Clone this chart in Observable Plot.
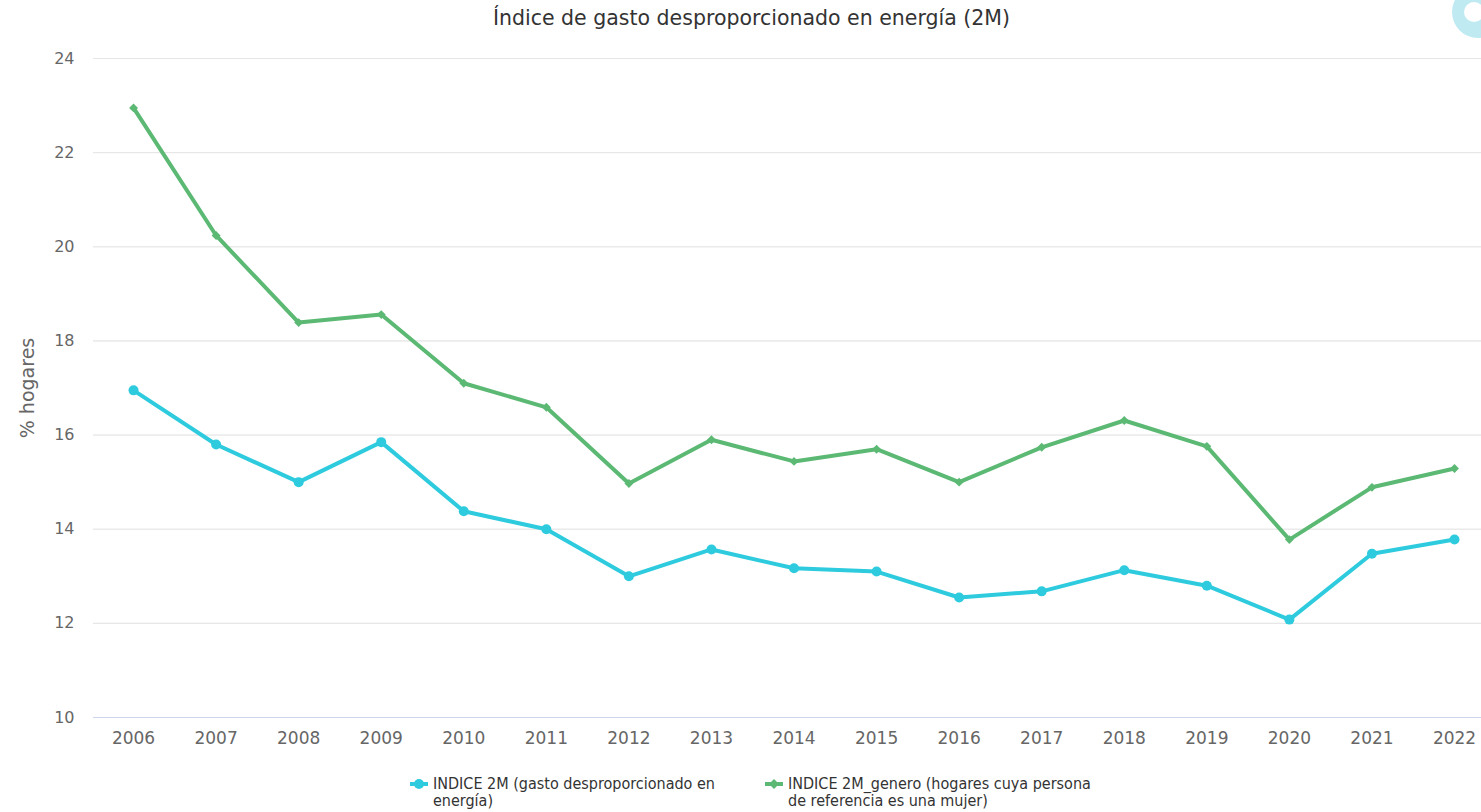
<!DOCTYPE html>
<html>
<head>
<meta charset="utf-8">
<script src="https://cdn.jsdelivr.net/npm/d3@7"></script>
<script src="https://cdn.jsdelivr.net/npm/@observablehq/plot@0.6"></script>
<style>
  html, body { margin: 0; padding: 0; background: #fff; }
  body { width: 1481px; height: 812px; position: relative; overflow: hidden; font-family: "DejaVu Sans", sans-serif; }
  #title { position: absolute; top: 6px; left: 11px; width: 1481px; text-align: center; font-size: 20.5px; color: #333; }
  #chart { position: absolute; top: 40px; left: 0; }
  #logo { position: absolute; top: -14px; left: 1452px; width: 52px; height: 52px; border-radius: 50%; background: #bfeaf2; }
  #logo::after { content: ""; position: absolute; left: 12px; top: 16px; width: 20px; height: 20px; border-radius: 50%; background: #fff; }
  #legend { position: absolute; top: 775px; left: 0; width: 1481px; font-family: "DejaVu Sans Condensed", "DejaVu Sans", sans-serif; font-stretch: condensed; font-size: 16px; color: #333; }
  .item { position: absolute; display: flex; align-items: flex-start; line-height: 17px; white-space: nowrap; }
  .item svg { margin-right: 5px; margin-top: 3px; flex: none; }
</style>
</head>
<body>
<div id="title">Índice de gasto desproporcionado en energía (2M)</div>
<div id="logo"></div>
<div id="chart"></div>
<div id="legend"></div>
<script>
const years = [2006, 2007, 2008, 2009, 2010, 2011, 2012, 2013, 2014, 2015, 2016, 2017, 2018, 2019, 2020, 2021, 2022];
const indice2M = [16.95, 15.8, 15.0, 15.85, 14.38, 14.0, 13.0, 13.57, 13.17, 13.1, 12.55, 12.68, 13.13, 12.8, 12.08, 13.48, 13.78];
const indice2MGenero = [22.95, 20.24, 18.39, 18.56, 17.1, 16.59, 14.97, 15.9, 15.44, 15.7, 15.0, 15.74, 16.31, 15.76, 13.78, 14.89, 15.29];
const yTicks = [10, 12, 14, 16, 18, 20, 22, 24];
const seriesNames = ["INDICE 2M (gasto desproporcionado en energía)", "INDICE 2M_genero (hogares cuya persona de referencia es una mujer)"];
const legendBreakAfterWords = [5, 5];
const seriesColors = ["#2ecbde", "#5bb974"];

const serie1 = years.map((y, i) => ({year: y, value: indice2M[i]}));
const serie2 = years.map((y, i) => ({year: y, value: indice2MGenero[i]}));

const chart = Plot.plot({
  width: 1481,
  height: 720,
  marginLeft: 93,
  marginRight: 0,
  marginTop: 18,
  marginBottom: 43,
  style: {fontFamily: "'DejaVu Sans', sans-serif", fontSize: "16px", color: "#666", background: "#fff"},
  x: {type: "linear", domain: [2005.515, 2022.327], ticks: years, tickFormat: d => String(d), tickSize: 0, tickPadding: 14, label: null},
  y: {domain: [10, 24], ticks: yTicks, tickSize: 0, tickPadding: 19, label: null, grid: true},
  marks: [
    Plot.gridY(yTicks, {stroke: "#e6e6e6", strokeOpacity: 1}),
    Plot.ruleY([10], {stroke: "#ccd6eb", strokeWidth: 1}),
    Plot.axisX({ticks: years, tickFormat: d => String(d), tickSize: 0, tickPadding: 14, fill: "#666", fontSize: 17, label: null}),
    Plot.axisY({ticks: yTicks, tickSize: 0, tickPadding: 19, fill: "#666", fontSize: 16, label: null}),
    Plot.text(["% hogares"], {frameAnchor: "left", textAnchor: "middle", dx: -66, rotate: -90, fontSize: 19, fill: "#666"}),
    Plot.line(serie2, {x: "year", y: "value", stroke: seriesColors[1], strokeWidth: 4}),
    Plot.dot(serie2, {x: "year", y: "value", fill: seriesColors[1], symbol: "diamond2", r: 4}),
    Plot.line(serie1, {x: "year", y: "value", stroke: seriesColors[0], strokeWidth: 4}),
    Plot.dot(serie1, {x: "year", y: "value", fill: seriesColors[0], r: 5})
  ]
});
document.getElementById("chart").appendChild(chart);

const legend = document.getElementById("legend");
const lefts = [410, 765];
seriesNames.forEach((name, i) => {
  const words = name.split(" ");
  const line1 = words.slice(0, legendBreakAfterWords[i]).join(" ");
  const line2 = words.slice(legendBreakAfterWords[i]).join(" ");
  const div = document.createElement("div");
  div.className = "item";
  div.style.left = lefts[i] + "px";
  const marker = i === 0
    ? `<circle cx="9" cy="6" r="5" fill="${seriesColors[i]}"/>`
    : `<path d="M9 1 L14 6 L9 11 L4 6 Z" fill="${seriesColors[i]}"/>`;
  div.innerHTML = `<svg width="18" height="12"><line x1="0" y1="6" x2="18" y2="6" stroke="${seriesColors[i]}" stroke-width="4"/>${marker}</svg><span>${line1}<br>${line2}</span>`;
  legend.appendChild(div);
});
</script>
</body>
</html>
